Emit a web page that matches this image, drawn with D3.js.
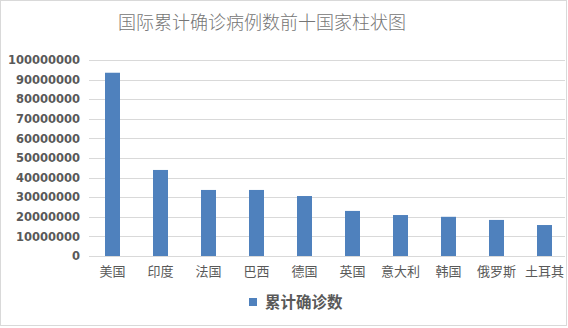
<!DOCTYPE html>
<html><head><meta charset="utf-8">
<script src="https://cdn.jsdelivr.net/npm/d3@7"></script>
<style>body{margin:0;background:#fff}svg{display:block}</style>
</head><body>
<script>
const categories = ["美国","印度","法国","巴西","德国","英国","意大利","韩国","俄罗斯","土耳其"];
const values = [93500000,43900000,33700000,33700000,30600000,23000000,20900000,20000000,18400000,15800000];
const yTicks = [0,10000000,20000000,30000000,40000000,50000000,60000000,70000000,80000000,90000000,100000000];
const title = "国际累计确诊病例数前十国家柱状图";
const seriesName = "累计确诊数";

const W=568,H=328;
const svg=d3.select("body").append("svg").attr("width",W).attr("height",H);
svg.append("rect").attr("x",0.5).attr("y",0.5).attr("width",566).attr("height",325)
  .attr("fill","#fff").attr("stroke","#d9d9d9");

const x=d3.scaleBand().domain(categories).range([88.5,568.5]).paddingInner(0.6875).paddingOuter(0.34375);
const y=d3.scaleLinear().domain([0,100000000]).range([256,60]);

const grid=svg.append("g");
grid.selectAll("line").data(yTicks).join("line")
  .attr("x1",89).attr("x2",565).attr("y1",d=>Math.round(y(d))+0.5).attr("y2",d=>Math.round(y(d))+0.5)
  .attr("stroke","#d9d9d9").attr("stroke-width",1);

const yAxis=svg.append("g").attr("transform","translate(89,0)")
  .call(d3.axisLeft(y).tickValues(yTicks).tickFormat(d3.format("d")).tickSize(0).tickPadding(9));
yAxis.select(".domain").remove();
yAxis.selectAll("text").attr("font-family","DejaVu Sans").attr("font-weight","bold")
  .attr("font-size","11.5px").attr("fill","#595959");

svg.append("g").selectAll("rect").data(values).join("rect")
  .attr("x",(d,i)=>x(categories[i])).attr("width",x.bandwidth())
  .attr("y",d=>y(d)).attr("height",d=>y(0)-y(d)).attr("fill","#4f81bd");

const xAxis=svg.append("g").attr("transform","translate(0,256)")
  .call(d3.axisBottom(x).tickSize(0).tickPadding(11));
xAxis.select(".domain").remove();
xAxis.selectAll("text").attr("font-family","Noto Sans CJK SC").attr("font-size","13px").attr("fill","#595959");

svg.append("text").attr("x",262).attr("y",29).attr("text-anchor","middle")
  .attr("font-family","Noto Sans CJK SC").attr("font-weight","300").attr("font-size","18px")
  .attr("fill","#757575").text(title);

svg.append("rect").attr("x",249).attr("y",298).attr("width",8).attr("height",8).attr("fill","#4f81bd");
svg.append("text").attr("x",265).attr("y",308).attr("font-family","Noto Sans CJK SC").attr("font-weight","bold")
  .attr("font-size","15.5px").attr("fill","#595959").text(seriesName);
</script>
</body></html>
